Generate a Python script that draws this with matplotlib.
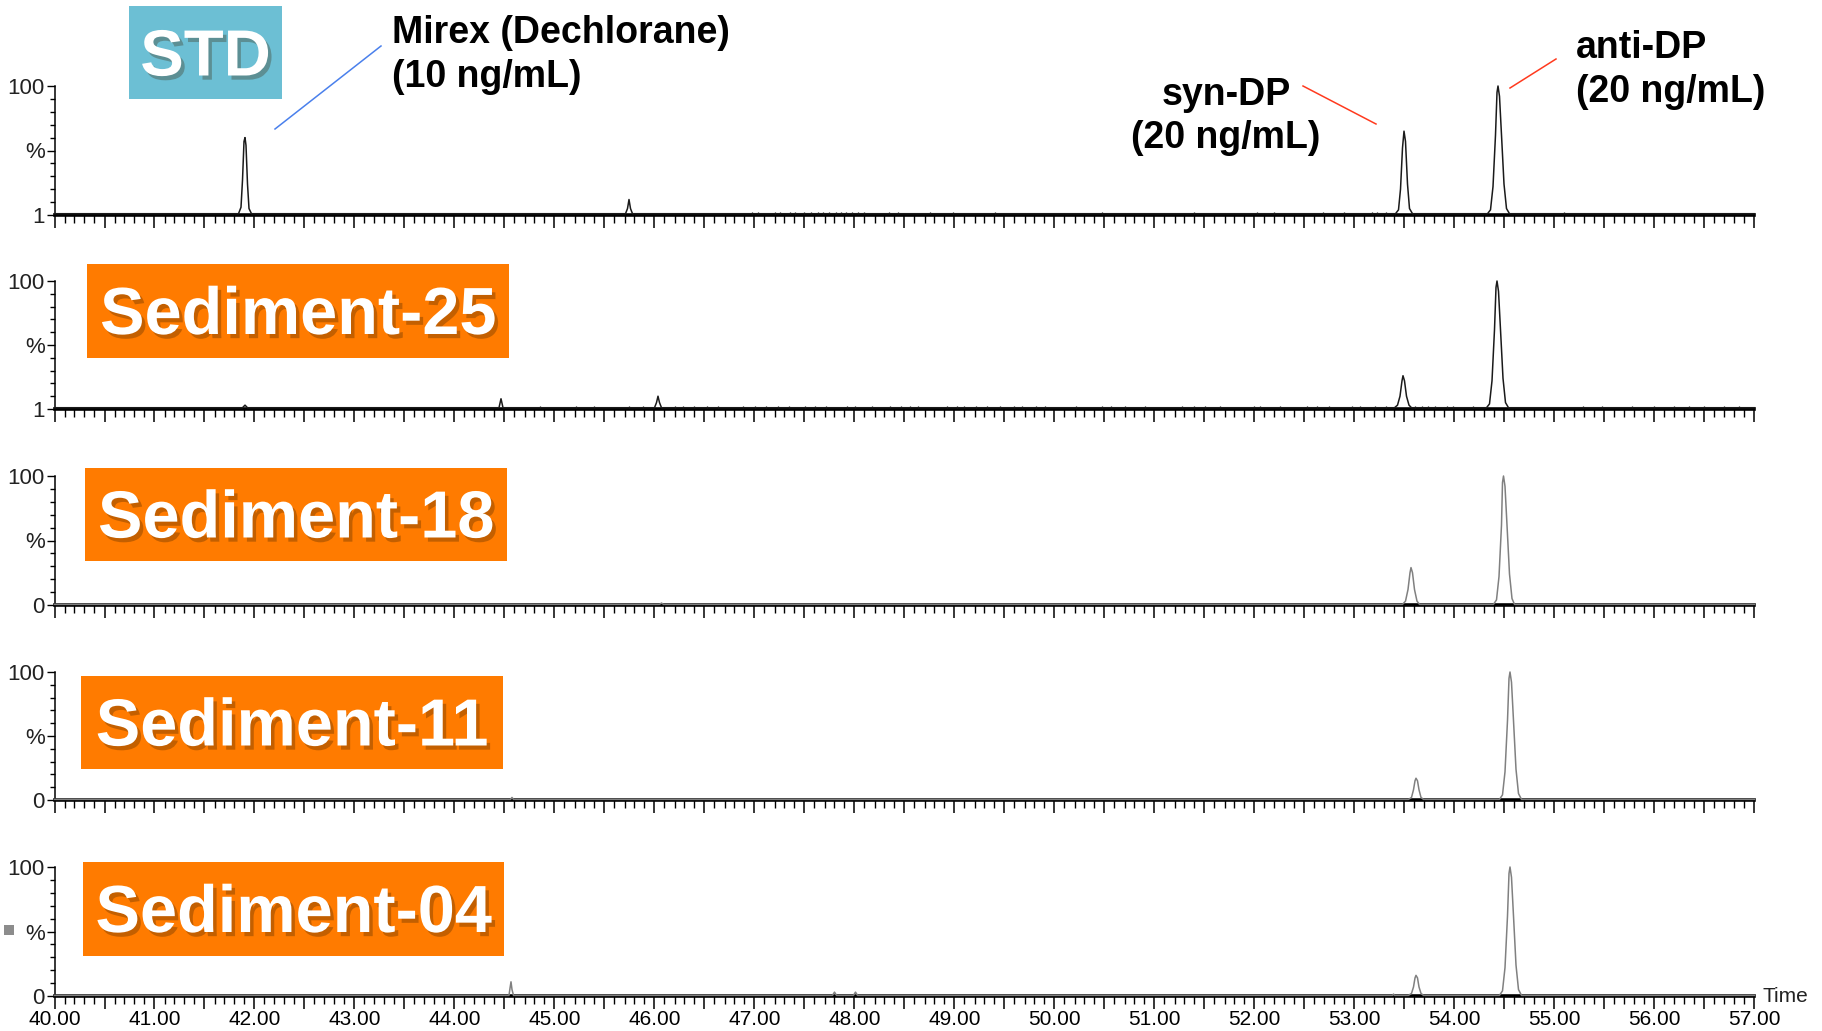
import matplotlib
matplotlib.use("Agg")
import matplotlib.pyplot as plt
import matplotlib.patheffects as pe
from matplotlib import font_manager as fm
from matplotlib.lines import Line2D
from matplotlib.patches import Rectangle
from matplotlib.ticker import MultipleLocator, FixedLocator, FuncFormatter

# ---- data (retention time in min, relative intensity in %) ----
std_t = [40.00, 41.84, 41.865, 41.88, 41.895, 41.905, 41.915, 41.93, 41.945, 41.97,
         45.71, 45.73, 45.745, 45.76, 45.78,
         53.41, 53.44, 53.46, 53.48, 53.495, 53.51, 53.53, 53.55, 53.58,
         54.33, 54.36, 54.385, 54.41, 54.425, 54.435, 54.45, 54.47, 54.495, 54.52, 54.55, 57.00]
std_y = [1, 1, 6, 27, 57, 60, 54, 24, 5, 1,
         1, 5, 12, 5, 1,
         1, 4, 20, 52, 65, 57, 24, 5, 1,
         1, 4, 22, 62, 95, 100, 92, 62, 24, 5, 1, 1]
std_noise_t = [46.98, 47.04, 47.20, 47.26, 47.36, 47.41, 47.50, 47.56, 47.63, 47.69, 47.75,
               47.82, 47.87, 47.92, 47.98, 48.04, 48.10, 48.34, 48.44, 48.76, 48.99, 49.41,
               50.48, 51.40, 52.03, 52.20, 52.69, 52.90, 53.18, 53.23, 53.32, 55.10]

s25_t = [40.00, 41.88, 41.905, 41.93, 44.445, 44.465, 44.485,
         46.00, 46.02, 46.035, 46.05, 46.07,
         53.40, 53.43, 53.455, 53.475, 53.485, 53.50, 53.52, 53.545, 53.57,
         54.32, 54.35, 54.375, 54.40, 54.415, 54.425, 54.44, 54.46, 54.485, 54.51, 54.54, 57.00]
s25_y = [1, 1, 3, 1, 1, 8, 1,
         1, 5, 10, 5, 1,
         1, 3, 10, 22, 26, 22, 10, 3, 1,
         1, 4, 22, 62, 95, 100, 92, 62, 24, 5, 1, 1]
s25_noise_t = [44.86, 45.22, 45.40, 45.75, 45.89, 46.20, 46.29, 46.40, 46.52, 46.63, 46.89,
               47.01, 47.12, 47.24, 47.35, 47.51, 47.61, 47.72, 47.93, 48.01, 48.18, 48.36,
               48.47, 48.56, 48.64, 48.93, 49.02, 49.10, 49.22, 49.33, 49.45, 49.59, 49.68,
               49.82, 49.91, 50.22, 50.48, 50.57, 50.71, 50.91, 51.28, 51.40, 51.51, 51.66,
               52.00, 52.06, 52.26, 52.52, 52.63, 52.75, 52.98, 53.06, 53.21, 53.32, 53.61,
               53.68, 53.74, 53.81, 53.93, 53.99, 54.19, 55.29, 55.48, 55.78, 56.00, 56.20,
               56.35, 56.50, 56.70, 56.85]

s18_t = [40.00, 46.05, 46.07, 46.09,
         53.48, 53.51, 53.535, 53.555, 53.565, 53.58, 53.60, 53.625, 53.65,
         54.39, 54.42, 54.445, 54.47, 54.48, 54.49, 54.505, 54.525, 54.55, 54.575, 54.60, 57.00]
s18_y = [0.5, 0.5, 1.5, 0.5,
         0.5, 3, 12, 25, 29, 25, 12, 3, 0.5,
         0.5, 4, 22, 62, 95, 100, 92, 62, 24, 5, 0.5, 0.5]

s11_t = [40.00, 44.56, 44.575, 44.59,
         53.54, 53.57, 53.59, 53.605, 53.615, 53.63, 53.645, 53.665, 53.69,
         54.45, 54.48, 54.505, 54.53, 54.545, 54.555, 54.57, 54.59, 54.615, 54.64, 54.67, 57.00]
s11_y = [0.5, 0.5, 2, 0.5,
         0.5, 2, 8, 15, 17, 15, 8, 2, 0.5,
         0.5, 4, 22, 62, 95, 100, 92, 62, 24, 5, 0.5, 0.5]

s04_t = [40.00, 44.545, 44.555, 44.565, 44.575, 44.59,
         47.78, 47.80, 47.82, 47.99, 48.01, 48.03, 53.38, 53.39, 53.40,
         53.54, 53.57, 53.59, 53.605, 53.615, 53.63, 53.645, 53.665, 53.69,
         54.45, 54.48, 54.505, 54.53, 54.545, 54.555, 54.57, 54.59, 54.615, 54.64, 54.67, 57.00]
s04_y = [0.5, 0.5, 6, 11, 5, 0.5,
         0.5, 3, 0.5, 0.5, 3, 0.5, 0.5, 1.5, 0.5,
         0.5, 2, 7, 14, 16, 14, 7, 2, 0.5,
         0.5, 4, 22, 62, 95, 100, 92, 62, 24, 5, 0.5, 0.5]

labels = ["STD", "Sediment-25", "Sediment-18", "Sediment-11", "Sediment-04"]
traces = [(std_t, std_y), (s25_t, s25_y), (s18_t, s18_y), (s11_t, s11_y), (s04_t, s04_y)]
noise = [std_noise_t, s25_noise_t, [], [], []]
bottom_labels = ["1", "1", "0", "0", "0"]
trace_colors = ["#1a1a1a", "#1a1a1a", "#808080", "#808080", "#808080"]

# ---- layout ----
W, H = 1822, 1031
fig = plt.figure(figsize=(W / 100, H / 100), dpi=100)

names = {f.name for f in fm.fontManager.ttflist}
tick_font = "Liberation Sans Narrow" if "Liberation Sans Narrow" in names else "Liberation Sans"
bold_font = "Liberation Sans"


def fx(x):
    return x / W


def fy(y):
    return 1 - y / H


x_left, x_right = 54.5, 1754.5
tops = [86, 281, 476, 672, 867]
bases = [215, 409, 605, 800, 996]

label_fmt = FuncFormatter(lambda v, p: f"{v:.2f}" if abs(v - round(v)) < 1e-6 else "")

for i in range(5):
    ax = fig.add_axes([fx(x_left), fy(bases[i]), (x_right - x_left) / W,
                       (bases[i] - tops[i]) / H])
    t, y = traces[i]
    ax.plot(t, y, color=trace_colors[i], lw=1.1, clip_on=False, zorder=3)
    if noise[i]:
        base = y[0]
        ax.vlines(noise[i], base, base + 1.6, color=trace_colors[i], lw=0.9, zorder=3)
    ax.set_xlim(40, 57)
    ax.set_ylim(0, 100)
    for s in ("top", "right"):
        ax.spines[s].set_visible(False)
    ax.spines["bottom"].set_linewidth(2.6)
    ax.spines["left"].set_linewidth(1.1)

    ax.xaxis.set_major_locator(MultipleLocator(0.5))
    ax.xaxis.set_minor_locator(MultipleLocator(0.1))
    ax.tick_params(axis="x", which="major", direction="out", length=9, width=1.1,
                   labelsize=15, pad=1)
    ax.tick_params(axis="x", which="minor", direction="out", length=6, width=1.0)
    if i == 4:
        ax.xaxis.set_major_formatter(label_fmt)
        for lab in ax.get_xticklabels():
            lab.set_fontfamily(tick_font)
        ax.text(57.08, 0, "Time", fontsize=15, family=tick_font, ha="left",
                va="center", color="#222222")
    else:
        ax.tick_params(axis="x", labelbottom=False)

    ax.yaxis.set_major_locator(FixedLocator([0, 50, 100]))
    ax.yaxis.set_minor_locator(MultipleLocator(10))
    ax.set_yticklabels([bottom_labels[i], "%", "100"], family=tick_font, fontsize=16,
                       color="#222222")
    ax.tick_params(axis="y", which="major", direction="out", length=6, width=1.0, pad=1)
    ax.tick_params(axis="y", which="minor", direction="out", length=3.5, width=1.0)

# ---- sample label boxes ----
boxes = [(129, 6, 282, 99), (87, 264, 509, 358), (85, 468, 507, 561),
         (81, 676, 503, 769), (83, 862, 504, 956)]
box_colors = ["#6CBFD4", "#FF7B00", "#FF7B00", "#FF7B00", "#FF7B00"]
label_sizes = [47, 48, 48, 48, 48]
shadow = [pe.SimplePatchShadow(offset=(2.5, -3), shadow_rgbFace="#3a2000", alpha=0.3),
          pe.Normal()]
for (bx0, by0, bx1, by1), c, lab, fs in zip(boxes, box_colors, labels, label_sizes):
    fig.patches.append(Rectangle((fx(bx0), fy(by1)), (bx1 - bx0) / W, (by1 - by0) / H,
                                 transform=fig.transFigure, facecolor=c, edgecolor="none",
                                 zorder=5))
    fig.text(fx((bx0 + bx1) / 2), fy((by0 + by1) / 2 + 6), lab, fontsize=fs,
             family=bold_font, weight="bold", color="white", ha="center", va="center",
             zorder=6, path_effects=shadow)

# ---- peak annotations ----
ann_kw = dict(fontsize=27, family=bold_font, weight="bold", color="black", va="baseline",
              zorder=6)
fig.text(fx(392), fy(43), "Mirex (Dechlorane)", ha="left", **ann_kw)
fig.text(fx(392), fy(87), "(10 ng/mL)", ha="left", **ann_kw)
fig.text(fx(1226), fy(105), "syn-DP", ha="center", **ann_kw)
fig.text(fx(1226), fy(148), "(20 ng/mL)", ha="center", **ann_kw)
fig.text(fx(1576), fy(58), "anti-DP", ha="left", **ann_kw)
fig.text(fx(1576), fy(102), "(20 ng/mL)", ha="left", **ann_kw)

for (xa, ya, xb, yb), c in [((381, 46, 275, 129), "#4A80EC"),
                            ((1303, 86, 1376, 124), "#FF3A1E"),
                            ((1556, 59, 1510, 88), "#FF3A1E")]:
    fig.add_artist(Line2D([fx(xa), fx(xb)], [fy(ya), fy(yb)], color=c, lw=1.1,
                          transform=fig.transFigure, zorder=6))

# small grey marker at the left edge
fig.patches.append(Rectangle((fx(4), fy(935)), 10 / W, 10 / H, transform=fig.transFigure,
                             facecolor="#8c8c8c", edgecolor="none", zorder=5))

fig.savefig("out.png", dpi=100)
